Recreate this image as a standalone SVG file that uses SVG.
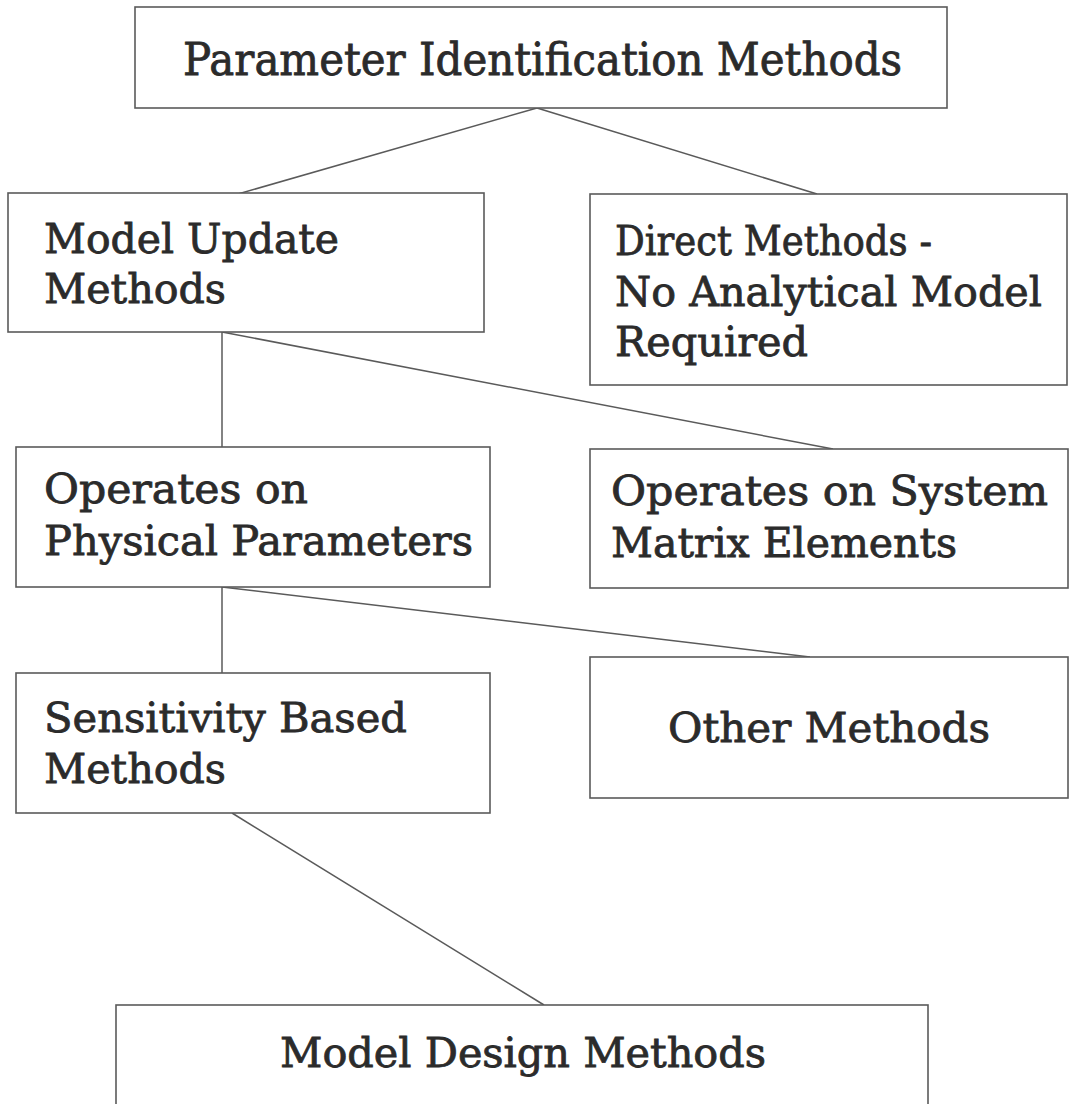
<svg xmlns="http://www.w3.org/2000/svg" width="1071" height="1104" viewBox="0 0 1071 1104">
<style>
.box{fill:#fff;stroke:#5a5a5a;stroke-width:1.6}
.lbl{font-family:"DejaVu Serif","Liberation Serif",serif;font-size:41px;fill:#2b2b2b;stroke:#2b2b2b;stroke-width:0.8}
.ttl{font-size:44px}
.edge{stroke:#5a5a5a;stroke-width:1.5;fill:none}
</style>
<rect width="1071" height="1104" fill="#fff"/>
<g id="connectors">
<line class="edge" x1="537" y1="108" x2="238" y2="194"/>
<line class="edge" x1="537" y1="108" x2="817" y2="194"/>
<line class="edge" x1="222" y1="332" x2="222" y2="447"/>
<line class="edge" x1="222" y1="332" x2="833" y2="449"/>
<line class="edge" x1="222" y1="587" x2="222" y2="673"/>
<line class="edge" x1="222" y1="587" x2="810" y2="657"/>
<line class="edge" x1="232" y1="813" x2="544" y2="1005"/>
</g>
<g id="n-param">
<rect class="box" x="135" y="7" width="812" height="101"/>
<text class="lbl ttl" x="183" y="75" textLength="719" lengthAdjust="spacingAndGlyphs">Parameter Identification Methods</text>
</g>
<g id="n-update">
<rect class="box" x="8" y="193" width="476" height="139"/>
<text class="lbl" x="44" y="253" textLength="295" lengthAdjust="spacingAndGlyphs">Model Update</text>
<text class="lbl" x="44" y="303" textLength="182" lengthAdjust="spacingAndGlyphs">Methods</text>
</g>
<g id="n-direct">
<rect class="box" x="590" y="194" width="477" height="191"/>
<text class="lbl" x="615" y="255" textLength="317" lengthAdjust="spacingAndGlyphs">Direct Methods -</text>
<text class="lbl" x="615" y="306" textLength="427" lengthAdjust="spacingAndGlyphs">No Analytical Model</text>
<text class="lbl" x="615" y="356" textLength="193" lengthAdjust="spacingAndGlyphs">Required</text>
</g>
<g id="n-physical">
<rect class="box" x="16" y="447" width="474" height="140"/>
<text class="lbl" x="44" y="503" textLength="264" lengthAdjust="spacingAndGlyphs">Operates on</text>
<text class="lbl" x="44" y="555" textLength="429" lengthAdjust="spacingAndGlyphs">Physical Parameters</text>
</g>
<g id="n-matrix">
<rect class="box" x="590" y="449" width="478" height="139"/>
<text class="lbl" x="611" y="505" textLength="437" lengthAdjust="spacingAndGlyphs">Operates on System</text>
<text class="lbl" x="611" y="557" textLength="346" lengthAdjust="spacingAndGlyphs">Matrix Elements</text>
</g>
<g id="n-sensitivity">
<rect class="box" x="16" y="673" width="474" height="140"/>
<text class="lbl" x="44" y="732" textLength="363" lengthAdjust="spacingAndGlyphs">Sensitivity Based</text>
<text class="lbl" x="44" y="783" textLength="182" lengthAdjust="spacingAndGlyphs">Methods</text>
</g>
<g id="n-other">
<rect class="box" x="590" y="657" width="478" height="141"/>
<text class="lbl" x="668" y="742" textLength="322" lengthAdjust="spacingAndGlyphs">Other Methods</text>
</g>
<g id="n-design">
<rect class="box" x="116" y="1005" width="812" height="120"/>
<text class="lbl" x="280" y="1067" textLength="486" lengthAdjust="spacingAndGlyphs">Model Design Methods</text>
</g>
</svg>
